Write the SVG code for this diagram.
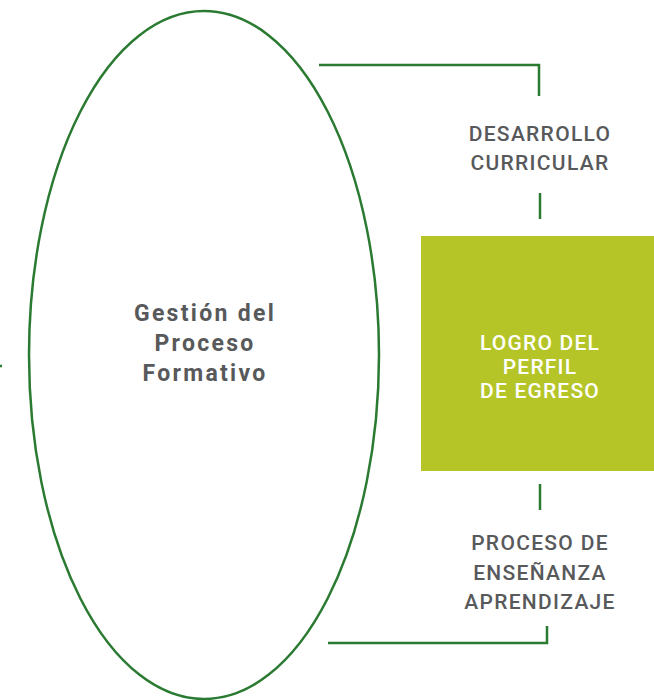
<svg xmlns="http://www.w3.org/2000/svg" width="654" height="700" viewBox="0 0 654 700">
<style>
.ln{fill:none;stroke:#2a7a32;stroke-width:2.5}
.lbl{font-family:Roboto,"Liberation Sans",sans-serif;font-weight:500;font-size:21px;letter-spacing:1.3px;fill:#58595b;text-anchor:middle}
.main{font-family:Roboto,"Liberation Sans",sans-serif;font-weight:700;font-size:23px;letter-spacing:2.3px;fill:#58595b;text-anchor:middle}
.box{font-family:Roboto,"Liberation Sans",sans-serif;font-weight:500;font-size:21px;letter-spacing:1.2px;fill:#ffffff;text-anchor:middle}
</style>
<rect width="654" height="700" fill="#ffffff"/>
<g id="connectors">
<path class="ln" d="M319 65 H539 V96"/>
<path class="ln" d="M540 193 V219"/>
<path class="ln" d="M540 484 V510"/>
<path class="ln" d="M328 643 H547 V626"/>
<path class="ln" d="M0 366 H2"/>
</g>
<g id="gestion">
<ellipse class="ln" cx="204" cy="355" rx="175" ry="344"/>
<text class="main"><tspan x="205" y="321">Gestión del</tspan><tspan x="205" y="351">Proceso</tspan><tspan x="205" y="381">Formativo</tspan></text>
</g>
<g id="desarrollo">
<text class="lbl"><tspan x="540" y="141">DESARROLLO</tspan><tspan x="540" y="170">CURRICULAR</tspan></text>
</g>
<g id="logro">
<rect x="421" y="236" width="233" height="235" fill="#b5c527"/>
<text class="box"><tspan x="540" y="350">LOGRO DEL</tspan><tspan x="540" y="374">PERFIL</tspan><tspan x="540" y="398">DE EGRESO</tspan></text>
</g>
<g id="proceso">
<text class="lbl"><tspan x="540" y="550">PROCESO DE</tspan><tspan x="540" y="580">ENSEÑANZA</tspan><tspan x="540" y="609">APRENDIZAJE</tspan></text>
</g>
</svg>
